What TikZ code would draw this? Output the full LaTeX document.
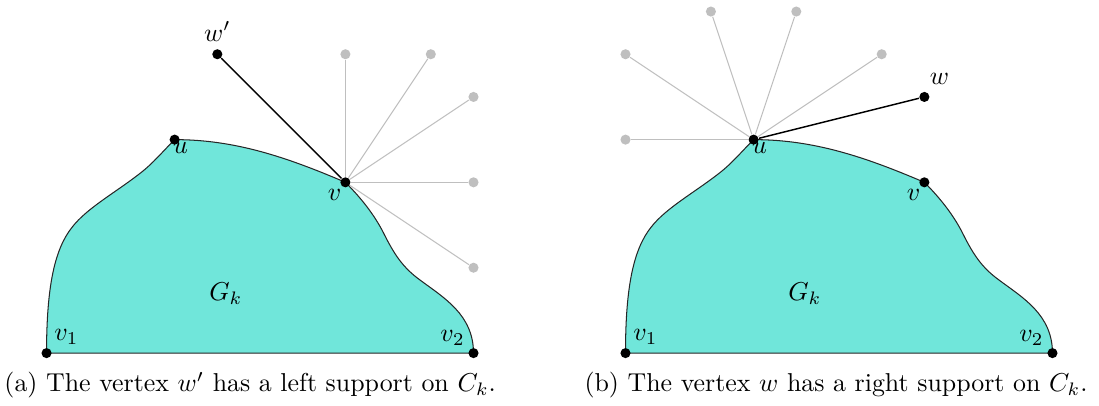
\documentclass[tikz,border=0pt]{standalone}
\usetikzlibrary{positioning}
\definecolor{gkfill}{RGB}{112,230,218}
\begin{document}
\begin{tikzpicture}[x=0.58cm,y=0.58cm,
  vtx/.style={circle,fill=black,inner sep=0pt,minimum size=3.9pt},
  ghost/.style={circle,fill=black!25,inner sep=0pt,minimum size=3.9pt},
  lbl/.style={inner sep=0pt},
  sedge/.style={black,line width=0.55pt},
  gedge/.style={black!25,line width=0.4pt},
  region/.style={fill=gkfill,draw=black!85,line width=0.4pt}]
\useasboundingbox (-1.09,-1.22) rectangle (24.65,8.27);
% (a) left support
\draw[region] (0,0) -- (10,0) .. controls (10,0.9) and (9.3,1.3) .. (8.75,1.71)
  .. controls (8.35,2.0) and (8.15,2.3) .. (7.9,2.8)
  .. controls (7.7,3.2) and (7.4,3.6) .. (7,4)
  .. controls (5.6,4.6) and (4.4,5) .. (3,5)
  .. controls (2.7,4.7) and (2.5,4.45) .. (2.19,4.21)
  .. controls (1.6,3.75) and (0.95,3.4) .. (0.6,2.95)
  .. controls (0.2,2.45) and (0,1.6) .. (0,0) -- cycle;
\node[lbl] (gka) at (4.2,1.4) {$G_k$};
\node[vtx] (v1a) at (0,0) {};
\node[vtx] (v2a) at (10,0) {};
\node[vtx] (ua) at (3,5) {};
\node[vtx] (va) at (7,4) {};
\node[vtx] (wpa) at (4,7) {};
\node[ghost] (ga1) at (7,7) {};
\node[ghost] (ga2) at (9,7) {};
\node[ghost] (ga3) at (10,6) {};
\node[ghost] (ga4) at (10,4) {};
\node[ghost] (ga5) at (10,2) {};
\draw[gedge] (va) -- (ga1);
\draw[gedge] (va) -- (ga2);
\draw[gedge] (va) -- (ga3);
\draw[gedge] (va) -- (ga4);
\draw[gedge] (va) -- (ga5);
\draw[sedge] (wpa) -- (va);
\node[lbl] (v1la) at ([shift={(7.7pt,6.2pt)}]v1a) {$v_1$};
\node[lbl] (v2la) at ([shift={(-8.1pt,5.8pt)}]v2a) {$v_2$};
\node[lbl] (ula) at ([shift={(2.3pt,-3.4pt)}]ua) {$u$};
\node[lbl] (vla) at ([shift={(-4.2pt,-5pt)}]va) {$v$};
\node[lbl] (wpla) at ([shift={(0pt,8.8pt)}]wpa) {$w'$};
\node (capa) at (4.77,-0.75) {(a) The vertex $w'$ has a left support on $C_k$.};
% (b) right support
\begin{scope}[shift={(13.56,0)}]
\draw[region] (0,0) -- (10,0) .. controls (10,0.9) and (9.3,1.3) .. (8.75,1.71)
  .. controls (8.35,2.0) and (8.15,2.3) .. (7.9,2.8)
  .. controls (7.7,3.2) and (7.4,3.6) .. (7,4)
  .. controls (5.6,4.6) and (4.4,5) .. (3,5)
  .. controls (2.7,4.7) and (2.5,4.45) .. (2.19,4.21)
  .. controls (1.6,3.75) and (0.95,3.4) .. (0.6,2.95)
  .. controls (0.2,2.45) and (0,1.6) .. (0,0) -- cycle;
\node[lbl] (gkb) at (4.2,1.4) {$G_k$};
\node[vtx] (v1b) at (0,0) {};
\node[vtx] (v2b) at (10,0) {};
\node[vtx] (ub) at (3,5) {};
\node[vtx] (vb) at (7,4) {};
\node[vtx] (wb) at (7,6) {};
\node[ghost] (gb1) at (0,5) {};
\node[ghost] (gb2) at (0,7) {};
\node[ghost] (gb3) at (2,8) {};
\node[ghost] (gb4) at (4,8) {};
\node[ghost] (gb5) at (6,7) {};
\draw[gedge] (ub) -- (gb1);
\draw[gedge] (ub) -- (gb2);
\draw[gedge] (ub) -- (gb3);
\draw[gedge] (ub) -- (gb4);
\draw[gedge] (ub) -- (gb5);
\draw[sedge] (ub) -- (wb);
\node[lbl] (v1lb) at ([shift={(7.7pt,6.2pt)}]v1b) {$v_1$};
\node[lbl] (v2lb) at ([shift={(-8.1pt,5.8pt)}]v2b) {$v_2$};
\node[lbl] (ulb) at ([shift={(2.3pt,-3.4pt)}]ub) {$u$};
\node[lbl] (vlb) at ([shift={(-4.2pt,-5pt)}]vb) {$v$};
\node[lbl] (wlb) at ([shift={(5.8pt,6.9pt)}]wb) {$w$};
\node (capb) at (4.93,-0.75) {(b) The vertex $w$ has a right support on $C_k$.};
\end{scope}
\end{tikzpicture}
\end{document}
